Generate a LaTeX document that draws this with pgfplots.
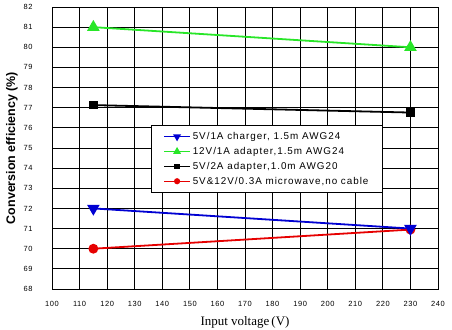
\documentclass[border=0pt]{standalone}
\usepackage{fontspec}
\setmainfont{Liberation Sans}
\newfontfamily\seriffont{Liberation Serif}
\newfontfamily\legfont{Liberation Sans}[LetterSpace=10]
\newfontfamily\tickfont{Liberation Sans}[LetterSpace=8]
\usepackage{pgfplots}
\pgfplotsset{compat=1.18}
\definecolor{cblue}{RGB}{0,0,210}
\definecolor{cgreen}{RGB}{40,230,40}
\definecolor{cred}{RGB}{230,0,0}
\begin{document}
\begin{tikzpicture}
\path[use as bounding box] (-52bp,-41bp) rectangle (400bp,289bp);
\begin{axis}[
  at={(0,0)}, anchor=south west,
  scale only axis, width=386bp, height=282bp,
  xmin=100, xmax=240, ymin=68, ymax=82,
  xtick={100,110,...,240}, ytick={68,69,...,82},
  grid=major, major grid style={black, line width=0.8bp},
  axis line style={black, line width=0.9bp},
  major tick length=0pt,
  /pgf/number format/assume math mode=true,
  ticklabel style={font=\tickfont\fontsize{7.5}{8}\selectfont},
  yticklabel style={xshift=-16bp},
  xticklabel style={yshift=-9bp},
  xlabel={\seriffont Input voltage\,(V)},
  xlabel style={font=\fontsize{13}{14}\selectfont, at={(axis description cs:0.5,-0.117)}, anchor=center},
  ylabel={Conversion efficiency (\%)},
  ylabel style={font=\fontsize{12.5}{14}\bfseries, at={(axis description cs:-0.1036,0.5)}, anchor=center},
  legend style={at={(axis cs:135.9,76.14)}, anchor=north west, draw=black, line width=0.8bp, fill=white,
    font=\legfont\fontsize{9.9}{9.9}\selectfont, row sep=2.2bp, inner xsep=12bp, inner ysep=5bp},
  legend cell align=left,
  reverse legend,
  legend image code/.code={\draw[mark repeat=2,mark phase=2,line width=1.3bp,every mark/.append style={scale=0.6}] plot coordinates {(0cm,0cm) (0.46cm,0cm) (0.92cm,0cm)};},
]
\addplot[cred, line width=1.8bp, mark=*, mark size=4bp] coordinates {(115,70) (230,70.95)};
\addlegendentry{5V\&12V/0.3A microwave,no cable}
\addplot[black, line width=1.8bp, mark=square*, mark size=3.3bp] coordinates {(115,77.13) (230,76.76)};
\addlegendentry{5V/2A adapter,1.0m AWG20}
\addplot[cgreen, line width=1.8bp, mark=triangle*, mark size=5.5bp] coordinates {(115,81) (230,80)};
\addlegendentry{12V/1A adapter,1.5m AWG24}
\addplot[cblue, line width=1.8bp, mark=triangle*, mark size=5.5bp, every mark/.append style={rotate=180}] coordinates {(115,72) (230,71)};
\addlegendentry{5V/1A charger, 1.5m AWG24}
\end{axis}
\end{tikzpicture}
\end{document}
